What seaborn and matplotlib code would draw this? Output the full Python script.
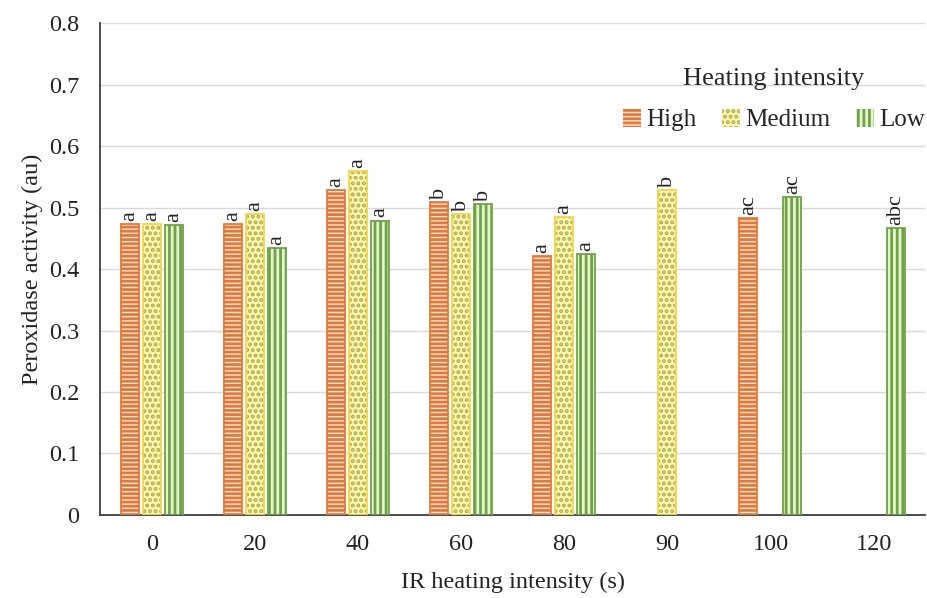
import numpy as np
import pandas as pd
import matplotlib
matplotlib.use("Agg")
import matplotlib.pyplot as plt
from matplotlib.patches import Patch, Rectangle
import seaborn as sns

# IR exposure times (s) and peroxidase activity per heating intensity
times = ["0", "20", "40", "60", "80", "90", "100", "120"]
high = [0.473, 0.473, 0.529, 0.509, 0.421, np.nan, 0.483, np.nan]
medium = [0.473, 0.489, 0.559, 0.489, 0.485, 0.529, np.nan, np.nan]
low = [0.472, 0.434, 0.479, 0.506, 0.424, np.nan, 0.517, 0.467]

# significance letters
letters_high = ["a", "a", "a", "b", "a", "", "ac", ""]
letters_medium = ["a", "a", "a", "b", "a", "b", "", ""]
letters_low = ["a", "a", "a", "b", "a", "", "ac", "abc"]

levels = ["High", "Medium", "Low"]

df = pd.DataFrame({
    "time": times * 3,
    "intensity": ["High"] * 8 + ["Medium"] * 8 + ["Low"] * 8,
    "value": high + medium + low,
})

sns.set_style("white")
plt.rcParams["font.family"] = ["Liberation Serif", "DejaVu Serif"]
plt.rcParams["hatch.linewidth"] = 2.0

# face colour, hatch colour, outline colour, hatch
styles = {
    "High": ("#FCE4D6", "#E07A3A", "#E07A3A", "----"),
    "Medium": ("#FFF6B0", "#A9B14E", "#F2D64B", "..."),
    "Low": ("#E6F5D0", "#6FA348", "#6FA348", "|||"),
}

fig, ax = plt.subplots(figsize=(9.27, 5.98), dpi=100)
sns.barplot(data=df, x="time", y="value", hue="intensity", hue_order=levels,
            order=times, width=0.64, gap=0.18, errorbar=None, ax=ax, legend=False)

letters = [letters_high, letters_medium, letters_low]
vals = [high, medium, low]
for k, (lvl, cont) in enumerate(zip(levels, ax.containers)):
    face, hcol, ecol, hatch = styles[lvl]
    present = [i for i, v in enumerate(vals[k]) if not np.isnan(v)]
    for i, bar in zip(present, cont.patches):
        bar.set_facecolor(face)
        bar.set_edgecolor(hcol)
        bar.set_hatch(hatch)
        bar.set_linewidth(0)
        ax.add_patch(Rectangle(bar.get_xy(), bar.get_width(), bar.get_height(),
                               fill=False, edgecolor=ecol, linewidth=1.3, zorder=3))
        ax.text(bar.get_x() + bar.get_width() / 2, bar.get_height() + 0.005,
                letters[k][i], rotation=90, ha="center", va="bottom",
                fontsize=16, color="#222222")

ax.set_ylim(0, 0.8)
ax.set_yticks(np.arange(0, 0.81, 0.1))
ax.set_yticklabels(["0"] + [f"{v:.1f}" for v in np.arange(0.1, 0.81, 0.1)])
ax.yaxis.grid(True, color="#D9D9D9", linewidth=1)
ax.set_axisbelow(True)
ax.tick_params(axis="y", length=0, labelsize=17.5, pad=15, colors="#222222")
ax.tick_params(axis="x", length=0, labelsize=17.5, pad=14, colors="#222222")
for s in ["top", "right"]:
    ax.spines[s].set_visible(False)
for s in ["left", "bottom"]:
    ax.spines[s].set_color("#404040")
    ax.spines[s].set_linewidth(1.3)

ax.set_xlabel("IR heating intensity (s)", fontsize=17.5, color="#222222", labelpad=12)
ax.set_ylabel("Peroxidase activity (au)", fontsize=17.5, color="#222222", labelpad=4)

handles = []
for lvl in levels:
    face, hcol, ecol, hatch = styles[lvl]
    handles.append(Patch(facecolor=face, edgecolor=hcol, hatch=hatch, linewidth=0))
ax.legend(handles, levels, title="Heating intensity", ncol=3, frameon=False,
          loc="upper right", bbox_to_anchor=(1.015, 0.935), borderpad=0,
          fontsize=18, title_fontsize=19, handlelength=0.75, handleheight=0.75,
          handletextpad=0.2, columnspacing=1.0, labelspacing=0.75)

fig.subplots_adjust(left=0.108, right=0.998, bottom=0.139, top=0.961)
fig.savefig("out.png", dpi=100)
